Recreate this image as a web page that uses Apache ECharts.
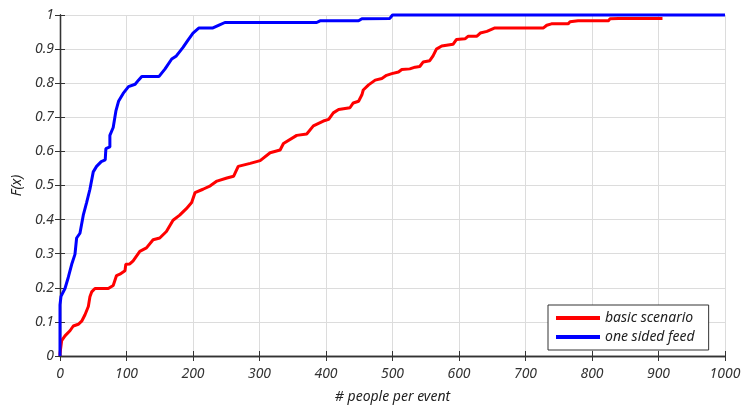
<!DOCTYPE html>
<html>
<head>
<meta charset="utf-8">
<script src="https://cdn.jsdelivr.net/npm/echarts@6/dist/echarts.min.js"></script>
<style>html,body{margin:0;padding:0;background:#fff}#c{width:744px;height:409px}</style>
</head>
<body>
<div id="c"></div>
<script>
var seriesNames = ['basic scenario', 'one sided feed'];
var xTicks = [0,100,200,300,400,500,600,700,800,900,1000];
var yTicks = [0,0.1,0.2,0.3,0.4,0.5,0.6,0.7,0.8,0.9,1];

var redX = [0,0,2.5,7.5,15,20,27.5,32.6,37.6,42.6,45,47.6,52.6,72.6,80,85,90,97.7,99,105,110,120,130,140,150,160,170,180,190,198,203,215,226,236,251,261,268,286,301,316,331,336,356,371,381,396,404,411,419,436,441,449,454,456,464,474,484,491,499,509,514,526,534,541,546,556,561,566,574,591,596,609,614,627,632,642,654,727,732,739,764,767,779,825,827,840,906];
var redY = [0,0.007,0.045,0.059,0.074,0.088,0.093,0.102,0.121,0.145,0.174,0.188,0.198,0.198,0.207,0.236,0.24,0.25,0.269,0.27,0.279,0.307,0.317,0.341,0.346,0.365,0.398,0.413,0.432,0.45,0.479,0.489,0.499,0.513,0.522,0.527,0.556,0.565,0.573,0.596,0.604,0.623,0.647,0.651,0.675,0.689,0.694,0.713,0.723,0.728,0.742,0.747,0.766,0.78,0.795,0.809,0.814,0.823,0.828,0.833,0.84,0.842,0.847,0.849,0.862,0.866,0.88,0.9,0.909,0.914,0.928,0.93,0.938,0.938,0.947,0.952,0.962,0.962,0.97,0.974,0.974,0.98,0.983,0.983,0.989,0.99,0.99];

var blueX = [0,0,1.5,7.5,12.5,17.6,22.5,25,30,35,40,45,50,55,62,68,69,75,75,80,84,88,95,103,113,118,123,149,158,168,175,185,193,200,209,230,240,248,386,391,449,454,496,500,1000];
var blueY = [0,0.15,0.175,0.198,0.231,0.269,0.298,0.346,0.36,0.413,0.45,0.489,0.54,0.556,0.57,0.575,0.608,0.613,0.647,0.67,0.718,0.747,0.77,0.79,0.797,0.809,0.82,0.82,0.842,0.871,0.88,0.905,0.928,0.947,0.962,0.962,0.971,0.978,0.978,0.983,0.983,0.989,0.99,1,1];

function zip(a, b) { var r = []; for (var i = 0; i < Math.min(a.length, b.length); i++) r.push([a[i], b[i]]); return r; }

var FONT = '"Comic Sans MS", "Noto Sans", sans-serif';
var axisLine = { show: true, lineStyle: { color: '#333', width: 1.3 } };
var chart = echarts.init(document.getElementById('c'), null, { renderer: 'canvas' });
chart.setOption({
  animation: false,
  backgroundColor: '#fff',
  grid: { left: 60, right: 19, top: 15, bottom: 45, containLabel: false },
  legend: {
    left: 548, top: 305, orient: 'vertical',
    padding: [6, 14, 6, 8],
    itemGap: 5,
    itemWidth: 44, itemHeight: 4,
    borderColor: '#333', borderWidth: 1, backgroundColor: '#fff',
    textStyle: { fontFamily: FONT, fontStyle: 'italic', fontSize: 14, color: '#222' },
    data: [
      { name: seriesNames[0], icon: 'rect' },
      { name: seriesNames[1], icon: 'rect' }
    ]
  },
  xAxis: [{
    type: 'value', min: xTicks[0], max: xTicks[xTicks.length - 1], interval: 100,
    name: '# people per event', nameLocation: 'middle', nameGap: 34,
    nameTextStyle: { fontFamily: FONT, fontStyle: 'italic', fontSize: 14, color: '#222' },
    axisLine: axisLine,
    axisTick: { show: true, inside: true, length: 5, lineStyle: { color: '#333' } },
    axisLabel: { fontFamily: FONT, fontStyle: 'italic', fontSize: 14, color: '#333', margin: 11,
      formatter: function (v) { return String(v); } },
    splitLine: { show: true, lineStyle: { color: '#dcdcdc', width: 1 } }
  }, {
    type: 'value', position: 'top', min: 0, max: 1000, interval: 100,
    axisLine: axisLine,
    axisTick: { show: true, inside: true, length: 5, lineStyle: { color: '#333' } },
    axisLabel: { show: false }, splitLine: { show: false }
  }],
  yAxis: [{
    type: 'value', min: yTicks[0], max: yTicks[yTicks.length - 1], interval: 0.1,
    name: 'F(x)', nameLocation: 'middle', nameGap: 34, nameRotate: 90,
    nameTextStyle: { fontFamily: FONT, fontStyle: 'italic', fontSize: 14, color: '#222' },
    axisLine: axisLine,
    axisTick: { show: true, inside: true, length: 5, lineStyle: { color: '#333' } },
    axisLabel: { fontFamily: FONT, fontStyle: 'italic', fontSize: 14, color: '#333', margin: 6,
      formatter: function (v) { return String(Math.round(v * 10) / 10); } },
    splitLine: { show: true, lineStyle: { color: '#dcdcdc', width: 1 } }
  }, {
    type: 'value', position: 'right', min: 0, max: 1, interval: 0.1,
    axisLine: axisLine,
    axisTick: { show: true, inside: true, length: 5, lineStyle: { color: '#333' } },
    axisLabel: { show: false }, splitLine: { show: false }
  }],
  series: [{
    name: seriesNames[0], type: 'line', data: zip(redX, redY),
    showSymbol: false, clip: false, z: 3,
    itemStyle: { color: '#ff0000' },
    lineStyle: { color: '#ff0000', width: 3 }
  }, {
    name: seriesNames[1], type: 'line', data: zip(blueX, blueY),
    showSymbol: false, clip: false, z: 4,
    itemStyle: { color: '#0000ff' },
    lineStyle: { color: '#0000ff', width: 3 }
  }]
});
</script>
</body>
</html>
